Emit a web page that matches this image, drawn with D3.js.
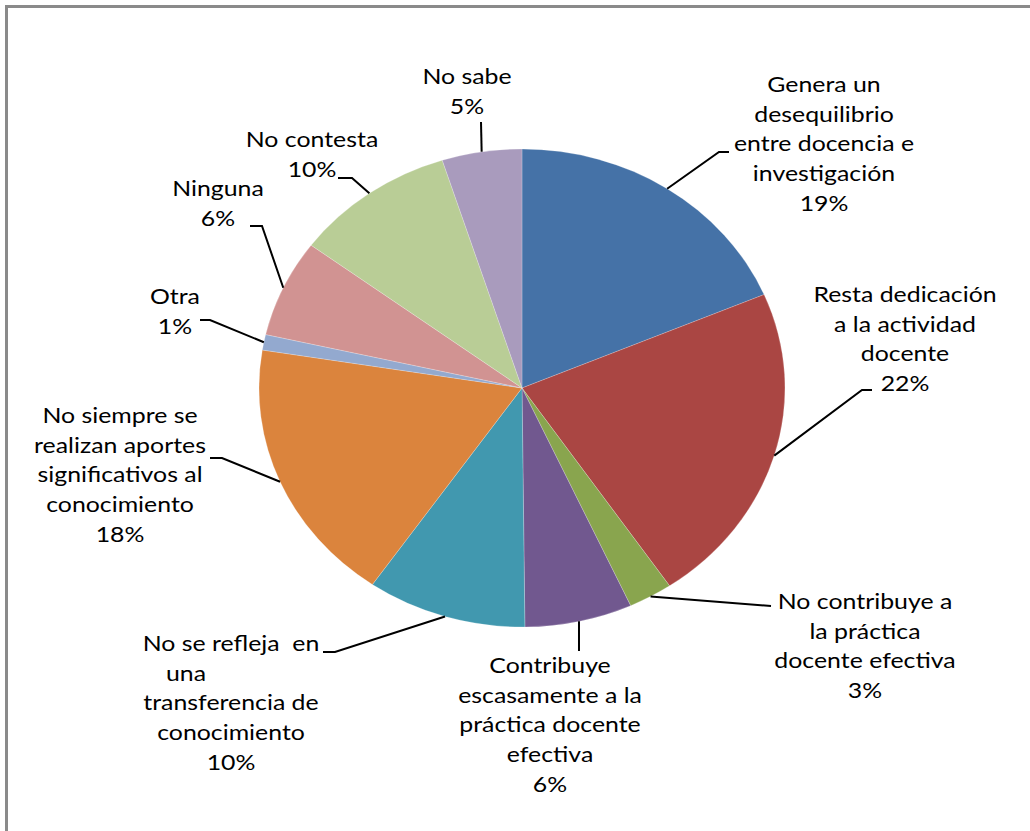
<!DOCTYPE html>
<html><head><meta charset="utf-8">
<script src="https://cdn.jsdelivr.net/npm/d3@7"></script>
<style>body{margin:0;background:#fff}svg{display:block}</style>
</head><body>
<script>
// ---- data ----
const categories = [
  "Genera un desequilibrio entre docencia e investigación",
  "Resta dedicación a la actividad docente",
  "No contribuye a la práctica docente efectiva",
  "Contribuye escasamente a la práctica docente efectiva",
  "No se refleja en una transferencia de conocimiento",
  "No siempre se realizan aportes significativos al conocimiento",
  "Otra",
  "Ninguna",
  "No contesta",
  "No sabe"
];
const values = [18.6, 21.9, 2.7, 6.6, 9.8, 17.9, 1.05, 6.6, 9.9, 4.9];
const pctLabels = ["19%", "22%", "3%", "6%", "10%", "18%", "1%", "6%", "10%", "5%"];
const labelLines = [
  ["Genera un", "desequilibrio", "entre docencia e", "investigación"],
  ["Resta dedicación", "a la actividad", "docente"],
  ["No contribuye a", "la práctica", "docente efectiva"],
  ["Contribuye", "escasamente a la", "práctica docente", "efectiva"],
  ["No se refleja\u00a0 en", "una", "transferencia de", "conocimiento"],
  ["No siempre se", "realizan aportes", "significativos al", "conocimiento"],
  ["Otra"],
  ["Ninguna"],
  ["No contesta"],
  ["No sabe"]
];
const colors = ["#4572A7","#AA4643","#89A54E","#71588F","#4198AF","#DB843D","#93A9CF","#D19392","#B9CD96","#A99BBD"];

// ---- layout (positions, not data) ----
const W = 1030, H = 831;
const cx = 522, cy = 388, rx = 263, ry = 239;
const lineH = 29.7;
const sx = 1.13;
const layout = [
  {x: 824, y: 92,  leader: [[719,152],[729,152]]},
  {x: 905, y: 302, leader: [[862,390],[872,390]]},
  {x: 865, y: 609, leader: [[771,606]]},
  {x: 550, y: 673, leader: [[579,651]]},
  {x: 231, y: 651, leader: [[335,652],[323,652]], dx: [0,-45,0,0,0]},
  {x: 120, y: 423, leader: [[222,458],[210,458]]},
  {x: 175, y: 304, leader: [[210,320],[200,320]]},
  {x: 218, y: 196, leader: [[262,226],[250,226]]},
  {x: 312, y: 147, leader: [[352,178],[338,178]]},
  {x: 467, y: 84,  leader: [[481,122]]}
];

const svg = d3.select("body").append("svg").attr("width", W).attr("height", H);
svg.append("rect").attr("x",0).attr("y",0).attr("width",W).attr("height",H).attr("fill","#fff");
svg.append("rect").attr("x",6.5).attr("y",6.5).attr("width",W+20).attr("height",H+20)
  .attr("fill","none").attr("stroke","#8a8a8a").attr("stroke-width",3);

const pie = d3.pie().sort(null).value(d => d);
const arcs = pie(values);
const arc = d3.arc().innerRadius(0).outerRadius(ry);

const g = svg.append("g").attr("transform", `translate(${cx},${cy}) scale(${rx/ry},1)`);
g.selectAll("path").data(arcs).join("path")
  .attr("d", arc).attr("fill", (d,i) => colors[i])
  .attr("stroke", "rgba(255,255,255,0.35)").attr("stroke-width", 0.6);

// leader lines
const edge = a => [cx + rx*Math.sin(a), cy - ry*Math.cos(a)];
const line = d3.line();
svg.append("g").selectAll("path").data(arcs).join("path")
  .attr("d", (d,i) => {
    const m = (d.startAngle + d.endAngle)/2;
    return line([edge(m), ...layout[i].leader]);
  })
  .attr("fill","none").attr("stroke","#000").attr("stroke-width",2);

// labels
const lg = svg.append("g").style("font-family","Lato, 'Open Sans', sans-serif")
  .style("font-size","22px").attr("fill","#000");
arcs.forEach((d,i) => {
  const L = layout[i];
  const lines = labelLines[i].concat([pctLabels[i]]);
  const t = lg.append("g").attr("transform", `translate(${L.x},${L.y}) scale(${sx},1)`);
  lines.forEach((s,j) => {
    t.append("text").attr("x", (L.dx ? L.dx[j] : 0)/sx).attr("y", j*lineH)
      .attr("text-anchor","middle").attr("xml:space","preserve").text(s);
  });
});
</script>
</body></html>
